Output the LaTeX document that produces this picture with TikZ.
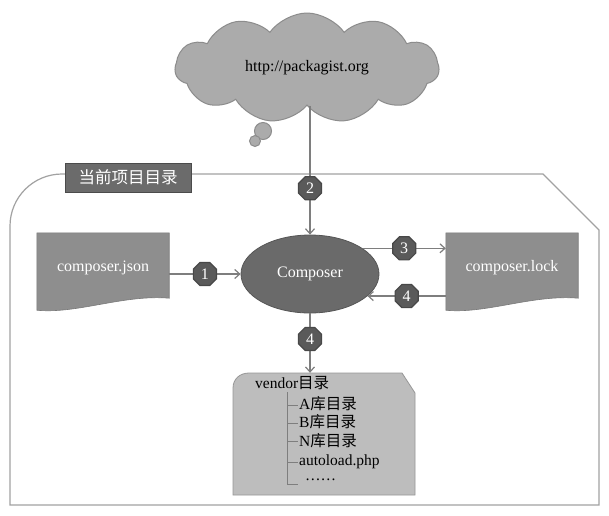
\documentclass[tikz,border=0pt]{standalone}
\usepackage{fontspec}
\setmainfont{Liberation Serif}
\newfontfamily\cjk{Noto Sans CJK SC}
\usetikzlibrary{shapes.geometric,shapes.symbols,arrows.meta}
\definecolor{cloudfill}{HTML}{ABABAB}
\definecolor{cloudline}{HTML}{8C8C8C}
\definecolor{docfill}{HTML}{8E8E8E}
\definecolor{ellfill}{HTML}{6A6A6A}
\definecolor{markfill}{HTML}{5A5A5A}
\definecolor{linegray}{HTML}{7E7E7E}
\definecolor{framegray}{HTML}{A2A2A2}
\definecolor{labfill}{HTML}{6B6B6B}
\definecolor{vendfill}{HTML}{BDBDBD}
\tikzset{
  conn/.style={draw=linegray, line width=1.2pt, -{Straight Barb[length=5pt,width=9pt]}},
  marker/.style={regular polygon, regular polygon sides=8, minimum size=25pt, inner sep=0pt,
     fill=markfill, draw=markfill!80!black, text=white, font=\fontsize{16}{16}\selectfont},
  docbox/.style={fill=docfill, draw=docfill!85!black, line width=0.6pt},
  docnode/.style={rectangle, inner sep=0pt, text=white, font=\fontsize{16}{18}\selectfont},
  treeline/.style={draw=linegray, line width=0.9pt},
  vtext/.style={anchor=west, inner sep=0pt, font=\fontsize{15.5}{17}\selectfont},
}
\begin{document}
\begin{tikzpicture}[x=1pt,y=-1pt]
\useasboundingbox (0,0) rectangle (609,515);
\fill[white] (0,0) rectangle (609,515);

% outer container
\draw[framegray, line width=1.2pt] (10,505) -- (10,226) .. controls (10,197.3) and (33.3,174) .. (62,174)
  -- (543,174) -- (599,230) -- (599,505) -- cycle;
\node[rectangle, minimum width=126pt, minimum height=29pt, inner sep=0pt, fill=labfill,
  draw=labfill!70!black, line width=0.8pt, text=white] (label) at (128,177.5)
  {\cjk\fontsize{16.5}{17}\selectfont 当前项目目录};

% cloud
\node[cloud, cloud puffs=11, cloud puff arc=110, aspect=2.5, minimum width=264pt, minimum height=110pt,
  inner sep=0pt, fill=cloudfill, draw=cloudline, line width=1pt,
  font=\fontsize{16}{18}\selectfont] (cloud) at (307,68) {http://packagist.org};
\node[circle, minimum size=17pt, inner sep=0pt, fill=cloudfill, draw=cloudline, line width=1pt] (bub1) at (263,131) {};
\node[circle, minimum size=11pt, inner sep=0pt, fill=cloudfill, draw=cloudline, line width=1pt] (bub2) at (255,141) {};

% composer
\node[ellipse, minimum width=138pt, minimum height=78pt, inner sep=0pt, fill=ellfill,
  draw=ellfill!80!black, line width=0.8pt, text=white, font=\fontsize{16}{18}\selectfont] (composer) at (310,274) {Composer};

% composer.json
\node[docnode, minimum width=132pt, minimum height=65pt] (json) at (103,265.5) {};
\path[docbox] (json.north west) -- (json.north east) -- (json.south east)
  .. controls +(-45,-4) and +(40,4) .. ([yshift=-12pt]json.south west) -- cycle;
\node[docnode] (jsontext) at (103,268) {composer.json};

% composer.lock
\node[docnode, minimum width=132pt, minimum height=65pt] (lock) at (512,265.5) {};
\path[docbox] (lock.north west) -- (lock.north east) -- (lock.south east)
  .. controls +(-45,-4) and +(40,4) .. ([yshift=-12pt]lock.south west) -- cycle;
\node[docnode] (locktext) at (512,268) {composer.lock};

% vendor
\node[rectangle, inner sep=0pt, minimum width=182pt, minimum height=122pt] (vendor) at (324,434) {};
\path[fill=vendfill, draw=vendfill!80!black, line width=0.8pt]
  (233,495) -- (233,388) .. controls (233,379) and (240,373) .. (249,373) -- (402,373) -- (415,393) -- (415,495) -- cycle;
\node[vtext] (vroot) at (255,383) {vendor{\cjk 目录}};
\draw[treeline] (287,392) -- (287,484) -- (298,484);
\draw[treeline] (287,405) -- (298,405);
\draw[treeline] (287,423) -- (298,423);
\draw[treeline] (287,441) -- (298,441);
\draw[treeline] (287,462) -- (298,462);
\node[vtext] (va) at (299,404) {A{\cjk 库目录}};
\node[vtext] (vb) at (299,422) {B{\cjk 库目录}};
\node[vtext] (vn) at (299,441) {N{\cjk 库目录}};
\node[vtext] (vauto) at (299,462) {autoload.php};
\node[vtext] (vdots) at (305,480) {……};

% connectors
\draw[conn] (cloud.south -| composer.north) -- node[marker, pos=0.64] (m2) {2} (composer.north);
\draw[conn] (json.east |- composer.west) -- node[marker] (m1) {1} (composer.west);
\draw[conn] (composer.26) -- node[marker] (m3) {3} (composer.26 -| lock.west);
\draw[conn] (composer.-21 -| lock.west) -- node[marker] (m4a) {4} (composer.-21);
\draw[conn] (composer.south) -- node[marker, pos=0.43] (m4b) {4} (composer.south |- vendor.north);
\end{tikzpicture}
\end{document}
